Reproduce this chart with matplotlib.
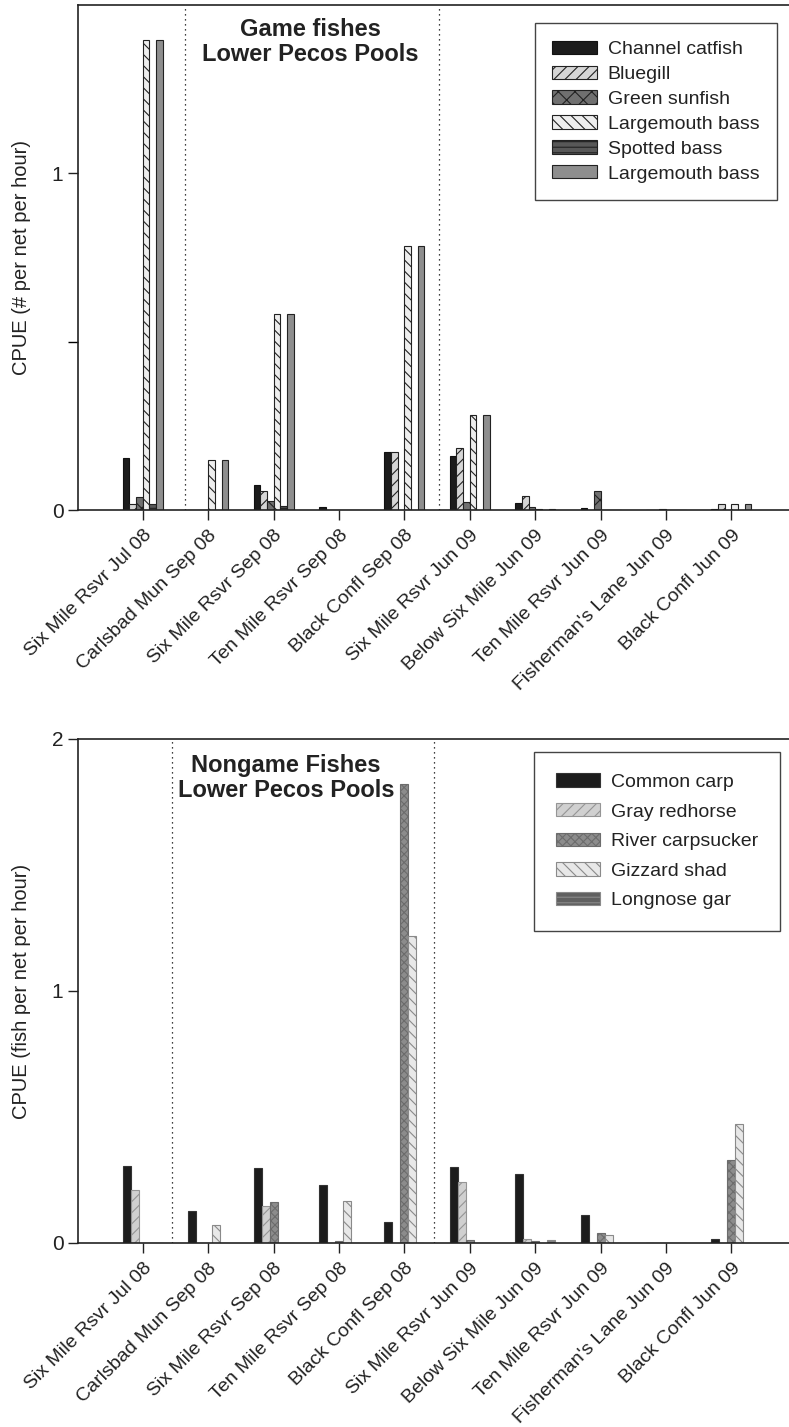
import matplotlib.pyplot as plt
import numpy as np

plt.rcParams['font.family'] = ['Liberation Sans', 'DejaVu Sans']
plt.rcParams['hatch.linewidth'] = 0.8

# sampling sites (same for both panels)
sites = ["Six Mile Rsvr Jul 08", "Carlsbad Mun Sep 08", "Six Mile Rsvr Sep 08",
         "Ten Mile Rsvr Sep 08", "Black Confl Sep 08", "Six Mile Rsvr Jun 09",
         "Below Six Mile Jun 09", "Ten Mile Rsvr Jun 09", "Fisherman's Lane Jun 09",
         "Black Confl Jun 09"]

# game fishes, CPUE (# per net per hour)
game_names = ["Channel catfish", "Bluegill", "Green sunfish",
              "Largemouth bass", "Spotted bass", "Largemouth bass"]
channel_catfish = [0.153, 0, 0.073, 0.008, 0.172, 0.159, 0.020, 0.007, 0, 0.004]
bluegill = [0.018, 0, 0.057, 0, 0.172, 0.183, 0.041, 0, 0, 0.018]
green_sunfish = [0.038, 0, 0.028, 0, 0, 0.023, 0.008, 0.055, 0.003, 0]
largemouth_bass = [1.396, 0.148, 0.582, 0, 0.783, 0.281, 0.004, 0, 0, 0.018]
spotted_bass = [0.018, 0, 0.013, 0, 0, 0, 0, 0, 0, 0]
largemouth_bass_2 = [1.396, 0.148, 0.582, 0, 0.783, 0.281, 0.004, 0, 0, 0.018]

# nongame fishes, CPUE (fish per net per hour)
nongame_names = ["Common carp", "Gray redhorse", "River carpsucker",
                 "Gizzard shad", "Longnose gar"]
common_carp = [0.306, 0.127, 0.296, 0.231, 0.083, 0.303, 0.274, 0.112, 0, 0.017]
gray_redhorse = [0.210, 0, 0.148, 0, 0, 0.243, 0.015, 0, 0, 0]
river_carpsucker = [0, 0, 0.161, 0.009, 1.82, 0.011, 0.009, 0.041, 0, 0.331]
gizzard_shad = [0, 0.073, 0, 0.168, 1.22, 0, 0, 0.032, 0, 0.471]
longnose_gar = [0, 0, 0, 0, 0, 0, 0.013, 0, 0, 0]

# (facecolor, edgecolor, hatch)
game_styles = [("#1c1c1c", "#111111", None),
               ("#d6d6d6", "#222222", "///"),
               ("#707070", "#222222", "xx"),
               ("#eeeeee", "#222222", "\\\\\\"),
               ("#585858", "#222222", "---"),
               ("#8e8e8e", "#222222", None)]
nongame_styles = [("#1c1c1c", "#333333", None),
                  ("#d0d0d0", "#959595", "///"),
                  ("#8c8c8c", "#6c6c6c", "xxxx"),
                  ("#e8e8e8", "#8a8a8a", "\\\\\\"),
                  ("#606060", "#8a8a8a", "---")]


def draw_panel(ax, series, names, styles, width, ylim, yticks, ylabel,
               title, title_x, title_y, dotted, legend_anchor, labelspacing,
               borderpad):
    x = np.arange(len(sites))
    n = len(series)
    for j, (vals, name, st) in enumerate(zip(series, names, styles)):
        fc, ec, h = st
        ax.bar(x + (j - (n - 1) / 2) * width, vals, width, color=fc,
               edgecolor=ec, hatch=h, linewidth=0.8, label=name, zorder=2)
    for d in dotted:
        ax.axvline(d, color="black", linestyle=(0, (1, 3)), linewidth=0.9, zorder=1)
    ax.set_xlim(-0.99, 9.88)
    ax.set_ylim(*ylim)
    ax.set_yticks(yticks)
    ax.set_yticklabels([str(int(t)) for t in yticks], fontsize=15)
    ax.set_xticks(x)
    ax.set_xticklabels(sites, rotation=45, ha="right", rotation_mode="anchor",
                       fontsize=14)
    ax.tick_params(axis="both", direction="out", length=7, width=1, colors="#222222",
                   labelcolor="#222222")
    ax.tick_params(axis="x", pad=5)
    ax.spines["right"].set_visible(False)
    for s in ["left", "bottom", "top"]:
        ax.spines[s].set_linewidth(1.2)
        ax.spines[s].set_color("#222222")
    ax.set_ylabel(ylabel, fontsize=14.5, color="#222222")
    ax.yaxis.set_label_coords(-0.066, 0.5)
    ax.text(title_x, title_y, title, transform=ax.transAxes, ha="center", va="top",
            fontsize=17, fontweight="bold", color="#222222", linespacing=1.08)
    leg = ax.legend(loc="upper right", bbox_to_anchor=legend_anchor, fontsize=14,
                    frameon=True, fancybox=False, framealpha=1, edgecolor="#444444",
                    handlelength=2.3, handleheight=0.68, handletextpad=0.55,
                    labelspacing=labelspacing, borderpad=borderpad, borderaxespad=0)
    leg.get_frame().set_linewidth(1.0)
    for t in leg.get_texts():
        t.set_color("#222222")


fig = plt.figure(figsize=(7.89, 14.27), dpi=100)

ax1 = fig.add_axes([78 / 789, 1 - 510 / 1427, 711 / 789, 505 / 1427])
draw_panel(ax1, [channel_catfish, bluegill, green_sunfish, largemouth_bass,
                 spotted_bass, largemouth_bass_2],
           game_names, game_styles, 0.102, (0, 1.5), [0, 1],
           "CPUE (# per net per hour)", "Game fishes\nLower Pecos Pools",
           (310 - 78) / 711, 0.974, [0.64, 4.53], (0.983, 0.964), 0.38, 0.9)
ax1.set_yticks([0.5], minor=True)
ax1.tick_params(axis="y", which="minor", direction="out", length=7, width=1)

ax2 = fig.add_axes([78 / 789, 1 - 1243 / 1427, 711 / 789, 504 / 1427])
draw_panel(ax2, [common_carp, gray_redhorse, river_carpsucker, gizzard_shad,
                 longnose_gar],
           nongame_names, nongame_styles, 0.122, (0, 2), [0, 1, 2],
           "CPUE (fish per net per hour)", "Nongame Fishes\nLower Pecos Pools",
           (286 - 78) / 711, 0.97, [0.44, 4.45], (0.987, 0.974), 0.62, 1.1)

fig.savefig("out.png", dpi=100)
